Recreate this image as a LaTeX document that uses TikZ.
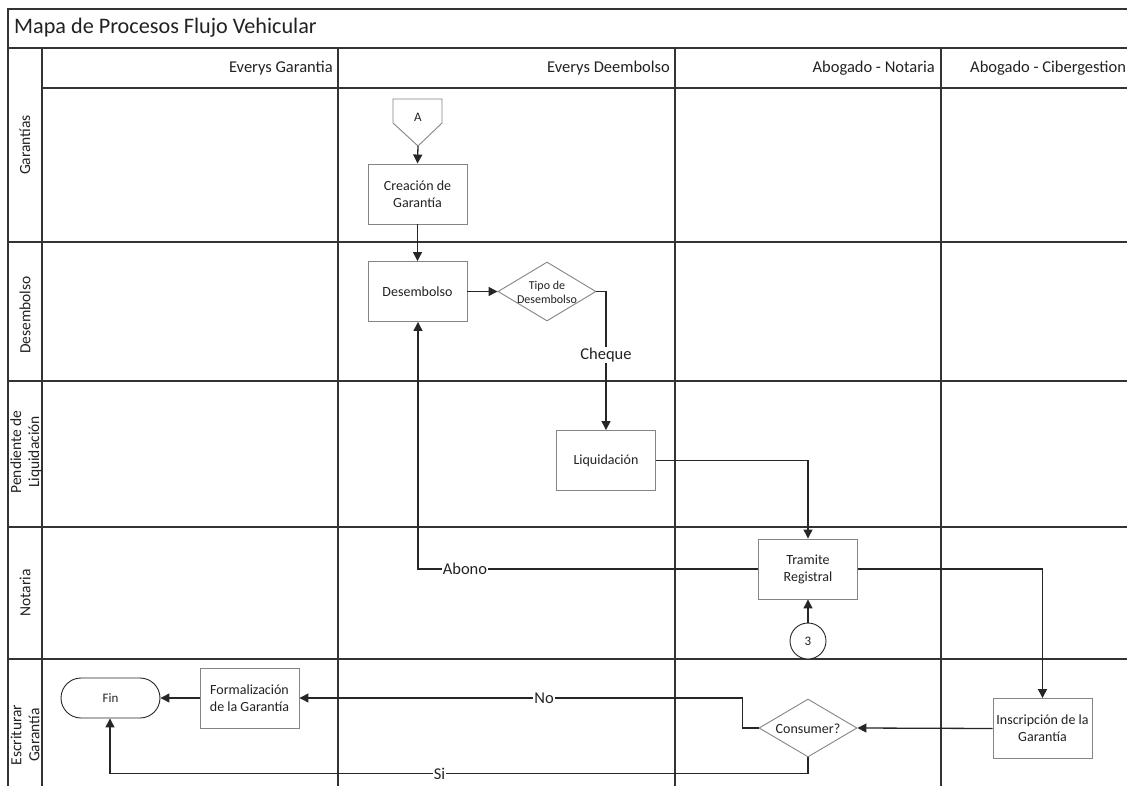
\documentclass[tikz,border=0pt]{standalone}
\usepackage{fontspec}
\setmainfont{Carlito}
\usetikzlibrary{arrows.meta,shapes.geometric}
\definecolor{frame}{HTML}{333333}
\definecolor{boxline}{HTML}{858585}
\definecolor{ink}{HTML}{222222}
\tikzset{
  lane/.style={draw=frame, line width=1.3pt},
  proc/.style={draw=boxline, line width=0.9pt, fill=white, minimum width=99pt,
    minimum height=60pt, inner sep=2pt, align=center, text=ink,
    font=\fontsize{14}{17}\selectfont},
  decision/.style={diamond, draw=boxline, line width=0.9pt, fill=white,
    inner sep=0pt, minimum width=98pt, minimum height=59pt},
  conn/.style={draw=black!85, line width=1.3pt, -{Triangle[length=9pt,width=9pt]}},
  lbl/.style={fill=white, inner sep=1pt, text=ink, font=\fontsize{16.5}{19}\selectfont},
  head/.style={text=ink, inner sep=0pt, font=\fontsize{16.5}{19}\selectfont},
  lanename/.style={rotate=90, text=ink, align=center, inner sep=0pt,
    font=\fontsize{15.5}{18}\selectfont},
}
\begin{document}
\begin{tikzpicture}[x=1pt,y=-1pt]
\useasboundingbox (0,0) rectangle (1127,786);
\begin{scope}
\clip (0,0) rectangle (1127,786);
\fill[white] (0,0) rectangle (1127,786);

% pool frame, lanes and columns
\draw[lane] (8,820) -- (8,9) -- (1140,9);
\draw[lane] (8,48) -- (1140,48);
\draw[lane] (42,88) -- (1140,88);
\foreach \x in {42,338,675,941} \draw[lane] (\x,48) -- (\x,820);
\foreach \y in {242,381,527,659} \draw[lane] (8,\y) -- (1140,\y);

% title and column headers
\node[anchor=west, text=ink, inner sep=0pt, font=\fontsize{22.2}{26}\selectfont] (title) at (14,28) {Mapa de Procesos Flujo Vehicular};
\node[head, anchor=east] (h1) at (333,68) {Everys Garantia};
\node[head, anchor=east] (h2) at (670,68) {Everys Deembolso};
\node[head, anchor=east] (h3) at (935,68) {Abogado - Notaria};
\node[head, anchor=west] (h4) at (970,68) {Abogado - Cibergestion};

% lane names
\node[lanename] (l1) at (25,145) {Garantías};
\node[lanename] (l2) at (25,315) {Desembolso};
\node[lanename] (l3) at (26,452) {Pendiente de\\Liquidación};
\node[lanename] (l4) at (25,593) {Notaria};
\node[lanename] (l5) at (25,735) {Escriturar\\Garantía};

% off-page connector A
\draw[draw=boxline, line width=0.9pt, fill=white] (393,99) -- (442,99) -- (442,123) -- (418,146) -- (393,123) -- cycle;
\node[text=ink, font=\fontsize{13}{15}\selectfont] (offA) at (418,117) {A};
\coordinate (offAtip) at (418,146);

% process steps
\node[proc] (crea) at (417.5,194) {Creación de\\Garantía};
\node[proc] (desem) at (417.5,291.5) {Desembolso};
\node[decision] (tipo) at (547,291.5) {};
\node[align=center, text=ink, font=\fontsize{12}{14}\selectfont] (tipot) at (547,292) {Tipo de\\Desembolso};
\node[proc] (liq) at (606,460.5) {Liquidación};
\node[proc] (tram) at (808,569) {Tramite\\Registral};
\node[circle, draw=black!85, line width=0.9pt, fill=white, minimum size=36pt, inner sep=0pt,
  text=ink, font=\fontsize{13}{15}\selectfont] (c3) at (808,641) {3};
\node[proc] (insc) at (1042.5,728.5) {Inscripción de la\\Garantía};
\node[decision, minimum height=58pt] (cons) at (808,728) {};
\node[text=ink, font=\fontsize{14}{17}\selectfont] (const) at (808,729) {Consumer?};
\node[proc] (form) at (249.5,698) {Formalización\\de la Garantía};
\node[draw=black!85, line width=0.9pt, fill=white, rounded corners=20pt,
  minimum width=99pt, minimum height=40pt, text=ink,
  font=\fontsize{13}{15}\selectfont] (fin) at (110.5,698) {Fin};

% connectors
\draw[conn] (offAtip) -- (crea.north);
\draw[conn] (crea) -- (desem);
\draw[conn] (desem) -- (tipo);
\draw[conn] (tipo.east) -| (liq.north) node[lbl, pos=0.73] {Cheque};
\draw[conn] (liq.east) -| (tram.north);
\draw[conn] (tram.west) -| ([xshift=0.5pt]desem.south) node[lbl, pos=0.431] {Abono};
\draw[conn] (tram.east) -| (insc.north);
\draw[conn] (c3) -- (tram.south);
\draw[conn] (insc.west) -- (cons.east);
\draw[conn] (cons.west) -- ++(-16,0) |- (form.east) node[lbl, pos=0.724] {No};
\draw[conn] (cons.south) -- ++(0,16) -| ([xshift=-0.5pt]fin.south) node[lbl, pos=0.264] {Si};
\draw[conn] (form) -- (fin);
\end{scope}
\end{tikzpicture}
\end{document}
